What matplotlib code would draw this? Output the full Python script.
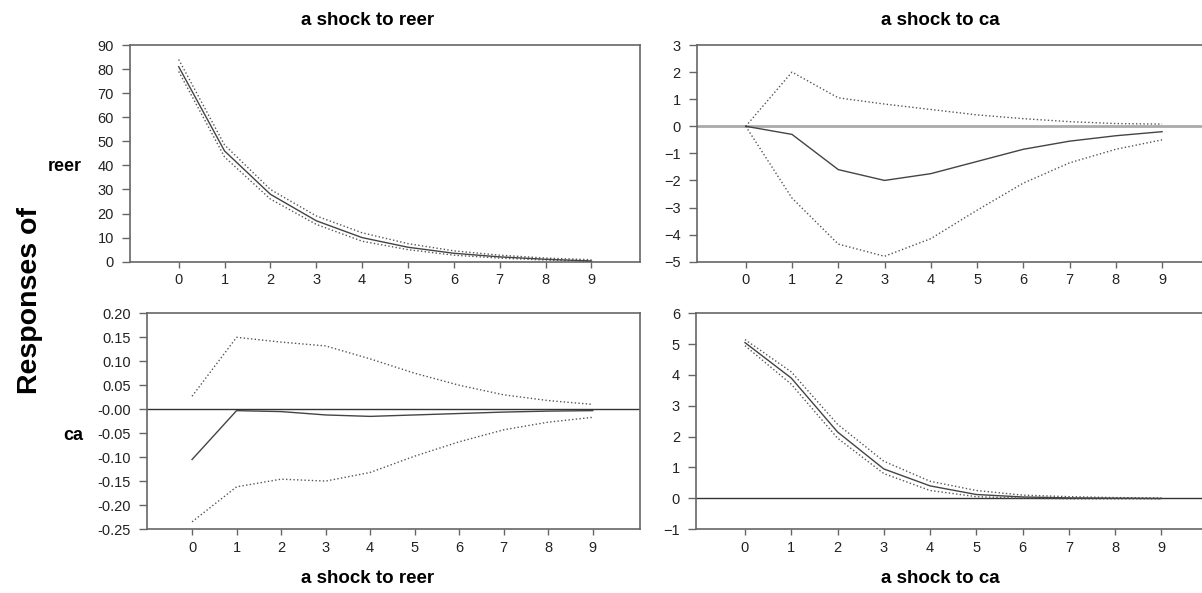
import matplotlib
matplotlib.use("Agg")
import matplotlib.pyplot as plt

plt.rcParams['font.family'] = ['Liberation Sans', 'DejaVu Sans']

# impulse response horizons
steps = list(range(10))

# response of reer to a shock to reer
reer_reer = [81, 46, 28, 17, 10, 6, 3.5, 2, 1, 0.3]
reer_reer_hi = [84, 48.5, 30, 19, 12, 7.5, 4.5, 2.7, 1.5, 0.8]
reer_reer_lo = [79, 43.5, 26, 15.5, 8.5, 5, 2.7, 1.5, 0.7, 0.1]

# response of reer to a shock to ca
reer_ca = [0, -0.3, -1.6, -2.0, -1.75, -1.3, -0.85, -0.55, -0.35, -0.2]
reer_ca_hi = [0, 2.0, 1.05, 0.82, 0.62, 0.42, 0.28, 0.17, 0.1, 0.08]
reer_ca_lo = [0, -2.65, -4.35, -4.8, -4.15, -3.1, -2.1, -1.35, -0.85, -0.5]

# response of ca to a shock to reer
ca_reer = [-0.105, -0.003, -0.005, -0.012, -0.015, -0.012, -0.009, -0.006, -0.004, -0.003]
ca_reer_hi = [0.027, 0.150, 0.140, 0.132, 0.105, 0.075, 0.050, 0.030, 0.018, 0.010]
ca_reer_lo = [-0.235, -0.162, -0.146, -0.150, -0.132, -0.098, -0.068, -0.043, -0.027, -0.017]

# response of ca to a shock to ca
ca_ca = [5.05, 3.9, 2.15, 0.95, 0.4, 0.12, 0.04, 0.01, 0.0, -0.01]
ca_ca_hi = [5.15, 4.1, 2.4, 1.2, 0.55, 0.25, 0.1, 0.05, 0.02, 0.01]
ca_ca_lo = [4.95, 3.7, 1.95, 0.8, 0.25, 0.05, 0.0, -0.02, -0.02, -0.02]

yticks_rr = [0, 10, 20, 30, 40, 50, 60, 70, 80, 90]
yticks_rc = [-5, -4, -3, -2, -1, 0, 1, 2, 3]
yticks_cr = [-0.25, -0.20, -0.15, -0.10, -0.05, 0.0, 0.05, 0.10, 0.15, 0.20]
ylabels_cr = ['-0.25', '-0.20', '-0.15', '-0.10', '-0.05', '-0.00', '0.05', '0.10', '0.15', '0.20']
yticks_cc = [-1, 0, 1, 2, 3, 4, 5, 6]

fig = plt.figure(figsize=(12.02, 5.93), dpi=100)

ax_rr = fig.add_axes([0.1082, 0.5587, 0.4243, 0.3654])
ax_rc = fig.add_axes([0.5796, 0.5587, 0.4280, 0.3654])
ax_cr = fig.add_axes([0.1220, 0.1079, 0.4104, 0.3637])
ax_cc = fig.add_axes([0.5790, 0.1079, 0.4280, 0.3637])


def draw(ax, mid, hi, lo, yticks, zero=None, ylabels=None):
    if zero is not None:
        ax.axhline(0, color=zero[0], lw=zero[1], zorder=1)
    ax.plot(steps, hi, color='#555555', lw=1, ls=':', zorder=2)
    ax.plot(steps, lo, color='#555555', lw=1, ls=':', zorder=2)
    ax.plot(steps, mid, color='#444444', lw=1, zorder=3)
    ax.set_xlim(-1.06, 10.06)
    ax.set_ylim(yticks[0], yticks[-1])
    ax.set_xticks(steps)
    ax.set_yticks(yticks)
    if ylabels is not None:
        ax.set_yticklabels(ylabels)
    ax.tick_params(direction='out', width=1, color='#666666',
                   labelsize=10.5, labelcolor='#222222')
    ax.tick_params(axis='x', length=4.5, pad=4)
    ax.tick_params(axis='y', length=5.5, pad=6)
    for s in ax.spines.values():
        s.set_color('#666666')
        s.set_linewidth(1.2)


draw(ax_rr, reer_reer, reer_reer_hi, reer_reer_lo, yticks_rr)
draw(ax_rc, reer_ca, reer_ca_hi, reer_ca_lo, yticks_rc, zero=('#aaaaaa', 2))
draw(ax_cr, ca_reer, ca_reer_hi, ca_reer_lo, yticks_cr, zero=('#333333', 1), ylabels=ylabels_cr)
draw(ax_cc, ca_ca, ca_ca_hi, ca_ca_lo, yticks_cc, zero=('#333333', 1))
ax_cr.set_xlim(-1.02, 10.06)

fig.text(0.306, 0.966, 'a shock to reer', ha='center', va='center', fontsize=13.5, fontweight='bold')
fig.text(0.782, 0.966, 'a shock to ca', ha='center', va='center', fontsize=13.5, fontweight='bold')
fig.text(0.306, 0.025, 'a shock to reer', ha='center', va='center', fontsize=13.5, fontweight='bold')
fig.text(0.782, 0.025, 'a shock to ca', ha='center', va='center', fontsize=13.5, fontweight='bold')
fig.text(0.025, 0.494, 'Responses of', rotation=90, ha='center', va='center', fontsize=20.5, fontweight='bold')
fig.text(0.054, 0.720, 'reer', ha='center', va='center', fontsize=13, fontweight='bold')
fig.text(0.061, 0.266, 'ca', ha='center', va='center', fontsize=13, fontweight='bold')

fig.savefig('out.png', dpi=100)
